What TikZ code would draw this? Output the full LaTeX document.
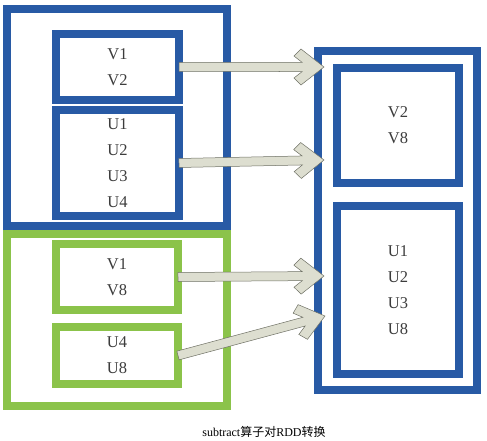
\documentclass[tikz,border=0pt]{standalone}
\usepackage{fontspec}
\setmainfont{Liberation Serif}
\newfontfamily\cjk{Noto Sans CJK SC}
\usetikzlibrary{calc}
\definecolor{rddblue}{RGB}{40,90,165}
\definecolor{rddgreen}{RGB}{139,195,74}
\definecolor{arrfill}{RGB}{221,222,208}
\definecolor{arrline}{RGB}{110,112,100}
\definecolor{txtgray}{RGB}{60,60,60}

\begin{document}
\begin{tikzpicture}[x=1pt,y=-1pt,
  rddbox/.style={line width=8pt,inner sep=0pt,outer sep=0pt,align=center,text=txtgray,font=\fontsize{16.5}{26}\selectfont},
  bbox/.style={rddbox,draw=rddblue},
  gbox/.style={rddbox,draw=rddgreen},
  barrow/.style={fill=arrfill,draw=arrline,line width=0.5pt,line join=miter}]
  \useasboundingbox (0,0) rectangle (487,441);
  % left, blue
  \node[bbox,minimum width=220pt,minimum height=217pt] (lblue) at (117,117.5){};
  \node[bbox,minimum width=123pt,minimum height=66pt] (v12) at (117.5,67){V1\\V2};
  \node[bbox,minimum width=123pt,minimum height=106pt] (u14) at (117.5,163){U1\\U2\\U3\\U4};
  % left, green
  \node[gbox,minimum width=220pt,minimum height=172pt] (lgreen) at (117,320){};
  \node[gbox,minimum width=122pt,minimum height=66pt] (v18) at (117,277){V1\\V8};
  \node[gbox,minimum width=122pt,minimum height=57pt] (u48) at (117,355.5){U4\\U8};
  % right, result
  \node[bbox,minimum width=159pt,minimum height=339pt] (rout) at (397.5,220.5){};
  \node[bbox,minimum width=122pt,minimum height=115pt] (v28) at (398,125.5){V2\\V8};
  \node[bbox,minimum width=122pt,minimum height=168pt] (u38) at (398,290){U1\\U2\\U3\\U8};
  % arrow tips
  \coordinate (h1) at (324,67);
  \coordinate (h2) at (324,160);
  \coordinate (h3) at (324,276);
  \coordinate (h4) at (325,316);
  \foreach \a/\b in {v12.east/h1,u14.east/h2,v18.east/h3,u48.east/h4}
    \draw[barrow] ($(\a)!4.5pt!90:(\b)$) -- ($(\b)!22.2pt!-11.7:(\a)$)
      -- ($(\b)!32pt!-20.1:(\a)$) -- ($(\b)!29.2pt!-38:(\a)$) -- (\b)
      -- ($(\b)!29.2pt!38:(\a)$) -- ($(\b)!32pt!20.1:(\a)$)
      -- ($(\b)!22.2pt!11.7:(\a)$) -- ($(\a)!4.5pt!-90:(\b)$) -- cycle;
  \node (cap) at (264,432){\fontsize{12}{14}\selectfont subtract{\cjk 算子对}RDD{\cjk 转换}};
\end{tikzpicture}
\end{document}
